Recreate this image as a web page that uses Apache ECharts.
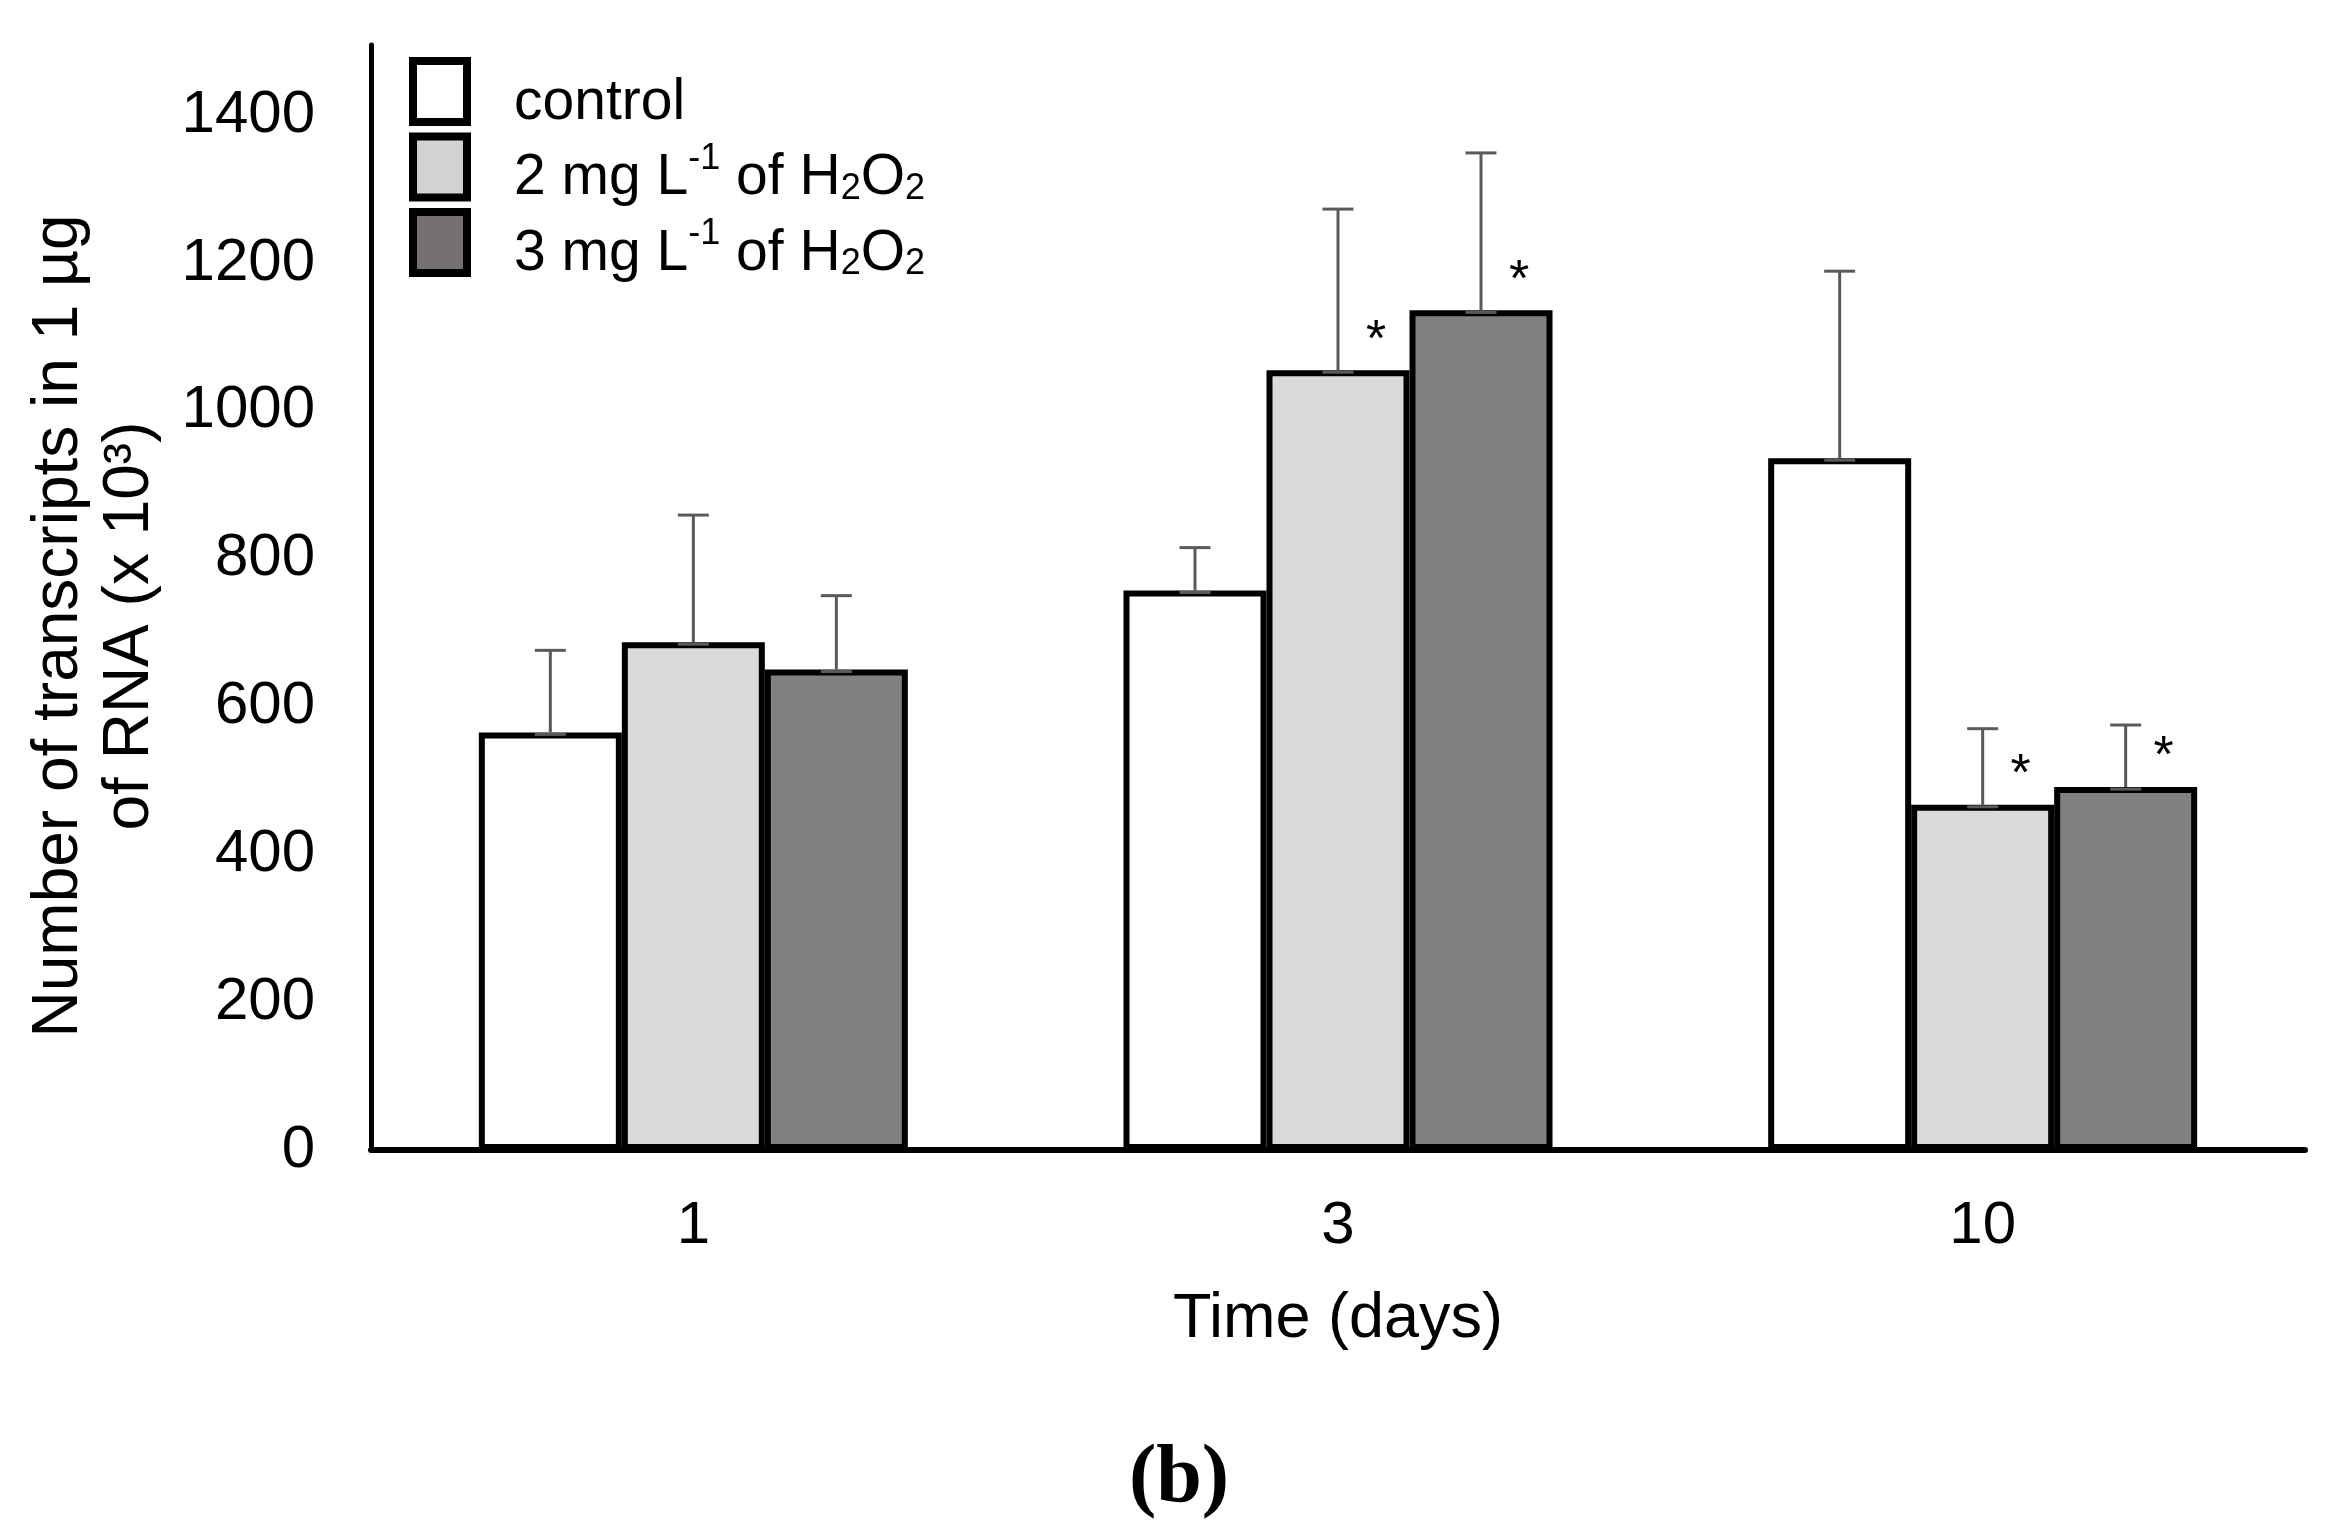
<!DOCTYPE html>
<html>
<head>
<meta charset="utf-8">
<script src="https://cdn.jsdelivr.net/npm/echarts@6/dist/echarts.min.js"></script>
<style>
html,body{margin:0;padding:0;background:#fff;}
#chart{width:2337px;height:1537px;}
</style>
</head>
<body>
<div id="chart"></div>
<script>
// ---- data ----
const categories = ['1', '3', '10'];
const seriesNames = ['control', '2 mg L-1 of H2O2', '3 mg L-1 of H2O2'];
const controlMean = [565, 757, 936];
const controlSD = [111, 58, 253];
const h2o2_2Mean = [687, 1055, 467];
const h2o2_2SD = [172, 218, 103];
const h2o2_3Mean = [650, 1136, 491];
const h2o2_3SD = [100, 213, 84];
const h2o2_2Sig = [false, true, true];
const h2o2_3Sig = [false, true, true];
const yMin = 0, yMax = 1495, yInterval = 200;

// ---- styles ----
const FONT = 'Liberation Sans';
const BAR_W = 143;
const CAP = 31;
const barColors = ['#ffffff', '#d9d9d9', '#808080'];
const legendColors = ['#ffffff', '#d2d2d2', '#757171'];

const means = [controlMean, h2o2_2Mean, h2o2_3Mean];
const sds = [controlSD, h2o2_2SD, h2o2_3SD];
const sigs = [null, h2o2_2Sig, h2o2_3Sig];

const errData = [];
means.forEach((m, k) => m.forEach((v, i) => errData.push([i, v, sds[k][i], k])));

const richLegend = {
  'control': '{n|control}',
  '2 mg L-1 of H2O2': '{n|2 mg L}{sup|-1}{n| of H}{sub|2}{n|O}{sub|2}',
  '3 mg L-1 of H2O2': '{n|3 mg L}{sup|-1}{n| of H}{sub|2}{n|O}{sub|2}'
};

const barSeries = seriesNames.map((name, k) => ({
  name: name,
  type: 'bar',
  barWidth: BAR_W,
  barGap: '0%',
  z: 2,
  itemStyle: { color: barColors[k], borderColor: '#000', borderWidth: 6 },
  label: {
    show: false, formatter: '*', position: 'top', distance: 5,
    offset: [38, 2], fontSize: 52, color: '#000', fontFamily: FONT
  },
  data: means[k].map((v, i) => ({
    value: v,
    label: { show: !!(sigs[k] && sigs[k][i]) }
  }))
}));

const chart = echarts.init(document.getElementById('chart'));
chart.setOption({
  animation: false,
  backgroundColor: '#fff',
  grid: { left: 371, right: 32, top: 45, bottom: 387, containLabel: false },
  legend: {
    left: 409, top: 57, padding: 0, orient: 'vertical', icon: 'rect',
    itemWidth: 54, itemHeight: 61, itemGap: 1,
    selectedMode: false,
    data: seriesNames.map((n, k) => ({
      name: n,
      itemStyle: { color: legendColors[k], borderColor: '#000', borderWidth: 8 }
    })),
    formatter: n => richLegend[n],
    textStyle: {
      color: '#000', fontFamily: FONT, fontSize: 57, padding: [0, 0, -12, 42],
      rich: {
        n: { fontSize: 57, fontFamily: FONT, color: '#000', lineHeight: 70, verticalAlign: 'top', padding: [12, 0, 0, 0] },
        sup: { fontSize: 36, fontFamily: FONT, color: '#000', lineHeight: 70, verticalAlign: 'top', padding: [3, 0, 0, 0] },
        sub: { fontSize: 36, fontFamily: FONT, color: '#000', lineHeight: 70, verticalAlign: 'top', padding: [33, 0, 0, 0] }
      }
    }
  },
  xAxis: {
    type: 'category',
    data: categories,
    axisLine: { show: true, lineStyle: { color: '#000', width: 6 } },
    axisTick: { show: false },
    axisLabel: { fontSize: 60, color: '#000', fontFamily: FONT, margin: 46 },
    name: 'Time (days)',
    nameLocation: 'middle',
    nameGap: 138,
    nameTextStyle: { fontSize: 63, color: '#000', fontFamily: FONT }
  },
  yAxis: {
    type: 'value',
    min: yMin, max: yMax, interval: yInterval,
    axisLine: { show: true, lineStyle: { color: '#000', width: 5 } },
    axisTick: { show: false },
    splitLine: { show: false },
    axisLabel: {
      fontSize: 60, color: '#000', fontFamily: FONT, margin: 56, showMaxLabel: false,
      formatter: v => String(v)
    }
  },
  graphic: [
    {
      type: 'text', x: 95, y: 626, rotation: Math.PI / 2,
      style: {
        text: 'Number of transcripts in 1 µg\nof RNA (x 10³)',
        fontSize: 64, fontFamily: FONT, fill: '#000',
        align: 'center', verticalAlign: 'middle', lineHeight: 71
      }
    },
    {
      type: 'text', x: 1179, y: 1480,
      style: {
        text: '(b)', fontSize: 82, fontWeight: 'bold', fontFamily: 'Liberation Serif',
        fill: '#000', align: 'center', verticalAlign: 'middle'
      }
    }
  ],
  series: barSeries.concat([{
    name: 'err',
    type: 'custom',
    z: 5,
    encode: { x: 0, y: 1 },
    data: errData,
    renderItem: function (params, api) {
      const ci = api.value(0), mean = api.value(1), sd = api.value(2), k = api.value(3);
      const p0 = api.coord([ci, mean]);
      const p1 = api.coord([ci, mean + sd]);
      const x = p0[0] + (k - 1) * BAR_W;
      const st = { stroke: '#5a5a5a', lineWidth: 3 };
      return {
        type: 'group',
        children: [
          { type: 'line', shape: { x1: x, y1: p0[1], x2: x, y2: p1[1] }, style: st },
          { type: 'line', shape: { x1: x - CAP / 2, y1: p1[1], x2: x + CAP / 2, y2: p1[1] }, style: st },
          { type: 'line', shape: { x1: x - CAP / 2, y1: p0[1] + 2, x2: x + CAP / 2, y2: p0[1] + 2 }, style: st }
        ]
      };
    }
  }])
});
</script>
</body>
</html>
